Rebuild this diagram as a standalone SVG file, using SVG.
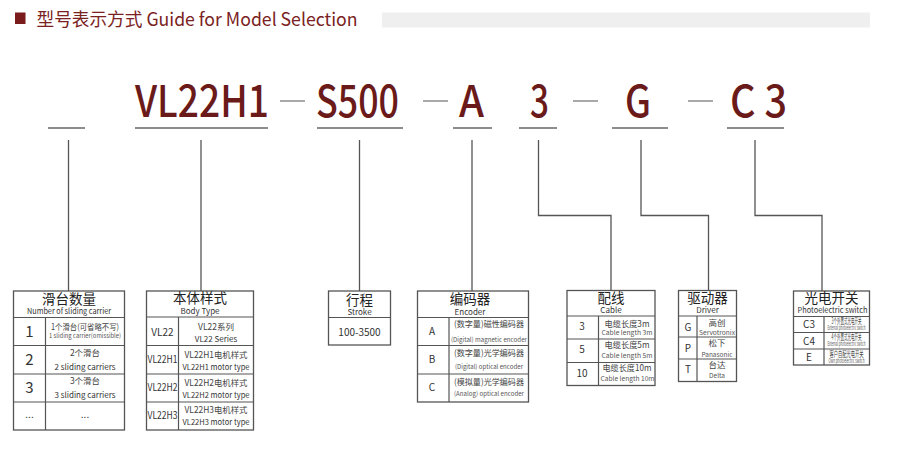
<svg xmlns="http://www.w3.org/2000/svg" width="899" height="471" viewBox="0 0 899 471">
<style>
text{font-family:"Noto Sans CJK SC","Noto Sans",sans-serif;fill:#333;text-anchor:middle}
.h{fill:#7a2222;text-anchor:start;font-size:18px}
.code{fill:#6b1a1a;font-size:44px;text-anchor:start;font-weight:500}
.ul{stroke:#8c8c8c;stroke-width:2}
.dash{stroke:#8c8c8c;stroke-width:1.5}
.conn{stroke:#555;stroke-width:1.3;fill:none}
.box{fill:#fff;stroke:#555;stroke-width:1.3}
.ln{stroke:#555;stroke-width:1.2}
.th{font-size:13.5px;fill:#222}
.te{font-size:8px;fill:#333}
.big{font-size:15px;fill:#333}
.k{font-size:10px;fill:#333}
.cn{font-size:8.5px;fill:#444}
.en{font-size:6.5px;fill:#555}
</style>
<rect width="899" height="471" fill="#fff"/>
<g id="title">
<rect x="15" y="12.5" width="10.5" height="11.5" fill="#7a1c1c"/>
<text class="h" x="36.5" y="26" textLength="321" lengthAdjust="spacingAndGlyphs">型号表示方式 Guide for Model Selection</text>
<rect x="382" y="12.5" width="488" height="15" fill="#efefef"/>
</g>
<g id="code">
<text class="code" x="135" y="117" textLength="134" lengthAdjust="spacingAndGlyphs">VL22H1</text>
<text class="code" x="316" y="117" textLength="83" lengthAdjust="spacingAndGlyphs">S500</text>
<text class="code" x="459" y="117" textLength="25" lengthAdjust="spacingAndGlyphs">A</text>
<text class="code" x="530" y="117" textLength="19" lengthAdjust="spacingAndGlyphs">3</text>
<text class="code" x="625" y="117" textLength="26" lengthAdjust="spacingAndGlyphs">G</text>
<text class="code" x="730" y="117" textLength="57" lengthAdjust="spacingAndGlyphs">C 3</text>
<line class="dash" x1="280" y1="101" x2="305" y2="101"/>
<line class="dash" x1="423" y1="101" x2="448" y2="101"/>
<line class="dash" x1="573" y1="101" x2="598" y2="101"/>
<line class="dash" x1="688" y1="101" x2="713" y2="101"/>
<line class="ul" x1="48" y1="128" x2="85" y2="128"/>
<line class="ul" x1="135" y1="128" x2="268" y2="128"/>
<line class="ul" x1="317" y1="128" x2="403" y2="128"/>
<line class="ul" x1="453" y1="128" x2="492" y2="128"/>
<line class="ul" x1="519" y1="128" x2="557" y2="128"/>
<line class="ul" x1="612" y1="128" x2="668" y2="128"/>
<line class="ul" x1="727" y1="128" x2="784" y2="128"/>
</g>
<g id="connectors">
<path class="conn" d="M68.5 140V291"/>
<path class="conn" d="M201 140V291"/>
<path class="conn" d="M359.5 140V291"/>
<path class="conn" d="M472 140V291"/>
<path class="conn" d="M538.5 140V215.5H611V290"/>
<path class="conn" d="M641 140V215.5H708.5V290" stroke="#888"/>
<path class="conn" d="M755 140V215.5H822V291"/>
</g>
<g id="carrier">
<rect class="box" x="13.5" y="291" width="111" height="139"/>
<line class="ln" x1="13.5" y1="317.5" x2="124.5" y2="317.5"/>
<line class="ln" x1="13.5" y1="345.5" x2="124.5" y2="345.5"/>
<line class="ln" x1="13.5" y1="374" x2="124.5" y2="374"/>
<line class="ln" x1="13.5" y1="402" x2="124.5" y2="402"/>
<line class="ln" x1="45.5" y1="317.5" x2="45.5" y2="430"/>
<text class="th" x="69" y="303.5">滑台数量</text>
<text class="te" x="69" y="314" textLength="84" lengthAdjust="spacingAndGlyphs">Number of sliding carrier</text>
<text class="big" x="29.5" y="336.5">1</text>
<text class="cn" x="85" y="329.5" font-size="7.5" textLength="68" lengthAdjust="spacingAndGlyphs">1个滑台(可省略不写)</text>
<text class="en" x="85" y="338" font-size="5.8" textLength="72" lengthAdjust="spacingAndGlyphs">1 sliding carrier(omissible)</text>
<text class="big" x="29.5" y="365">2</text>
<text class="cn" x="85" y="355.5">2个滑台</text>
<text class="te" x="85" y="369.5">2 sliding carriers</text>
<text class="big" x="29.5" y="393">3</text>
<text class="cn" x="85" y="383.5">3个滑台</text>
<text class="te" x="85" y="397.5">3 sliding carriers</text>
<text class="k" x="29.5" y="418" font-size="11">...</text>
<text class="k" x="85" y="418" font-size="11">...</text>
</g>
<g id="body">
<rect class="box" x="146.5" y="291" width="107" height="139"/>
<line class="ln" x1="146.5" y1="317" x2="253.5" y2="317"/>
<line class="ln" x1="146.5" y1="345.5" x2="253.5" y2="345.5"/>
<line class="ln" x1="146.5" y1="374" x2="253.5" y2="374"/>
<line class="ln" x1="146.5" y1="402" x2="253.5" y2="402"/>
<line class="ln" x1="178.5" y1="317" x2="178.5" y2="430"/>
<text class="th" x="200" y="303">本体样式</text>
<text class="te" x="200" y="313.5">Body Type</text>
<text class="k" x="162.5" y="336" font-size="9.5">VL22</text>
<text class="cn" x="216" y="329.5" font-size="9">VL22系列</text>
<text class="te" x="216" y="342">VL22 Series</text>
<text class="k" x="162.5" y="362.5" font-size="9" textLength="30" lengthAdjust="spacingAndGlyphs">VL22H1</text>
<text class="cn" x="216" y="357.5" font-size="9.5" textLength="63" lengthAdjust="spacingAndGlyphs">VL22H1电机样式</text>
<text class="te" x="216" y="370" font-size="8.3" textLength="67" lengthAdjust="spacingAndGlyphs">VL22H1 motor type</text>
<text class="k" x="162.5" y="390.5" font-size="9" textLength="30" lengthAdjust="spacingAndGlyphs">VL22H2</text>
<text class="cn" x="216" y="385.5" font-size="9.5" textLength="63" lengthAdjust="spacingAndGlyphs">VL22H2电机样式</text>
<text class="te" x="216" y="398" font-size="8.3" textLength="67" lengthAdjust="spacingAndGlyphs">VL22H2 motor type</text>
<text class="k" x="162.5" y="418.5" font-size="9" textLength="30" lengthAdjust="spacingAndGlyphs">VL22H3</text>
<text class="cn" x="216" y="412.5" font-size="9.5" textLength="63" lengthAdjust="spacingAndGlyphs">VL22H3电机样式</text>
<text class="te" x="216" y="424.5" font-size="8.3" textLength="67" lengthAdjust="spacingAndGlyphs">VL22H3 motor type</text>
</g>
<g id="stroke">
<rect class="box" x="328.5" y="291" width="62" height="54"/>
<line class="ln" x1="328.5" y1="317.5" x2="390.5" y2="317.5"/>
<text class="th" x="359.5" y="305">行程</text>
<text class="te" x="359.5" y="314.5">Stroke</text>
<text class="k" x="359.5" y="335.5" font-size="11.5">100-3500</text>
</g>
<g id="encoder">
<rect class="box" x="417.5" y="291" width="111" height="111"/>
<line class="ln" x1="417.5" y1="317.5" x2="528.5" y2="317.5"/>
<line class="ln" x1="417.5" y1="345.5" x2="528.5" y2="345.5"/>
<line class="ln" x1="417.5" y1="374" x2="528.5" y2="374"/>
<line class="ln" x1="449" y1="317.5" x2="449" y2="402"/>
<text class="th" x="470" y="303.5">编码器</text>
<text class="te" x="470" y="314.5">Encoder</text>
<text class="k" x="432" y="334.5" font-size="9">A</text>
<text class="cn" x="489" y="327" textLength="70" lengthAdjust="spacingAndGlyphs">(数字量)磁性编码器</text>
<text class="en" x="489" y="342" font-size="6" textLength="76" lengthAdjust="spacingAndGlyphs">(Digital) magnetic encoder</text>
<text class="k" x="432" y="362.5" font-size="9">B</text>
<text class="cn" x="489" y="356" textLength="70" lengthAdjust="spacingAndGlyphs">(数字量)光学编码器</text>
<text class="en" x="489" y="368.5" font-size="6" textLength="68" lengthAdjust="spacingAndGlyphs">(Digital) optical encoder</text>
<text class="k" x="432" y="391" font-size="9">C</text>
<text class="cn" x="489" y="384.5" textLength="70" lengthAdjust="spacingAndGlyphs">(模拟量)光学编码器</text>
<text class="en" x="489" y="396" font-size="6" textLength="70" lengthAdjust="spacingAndGlyphs">(Analog) optical encoder</text>
</g>
<g id="cable">
<rect class="box" x="567" y="290.5" width="88" height="95"/>
<line class="ln" x1="567" y1="316" x2="655" y2="316"/>
<line class="ln" x1="567" y1="339" x2="655" y2="339"/>
<line class="ln" x1="567" y1="362.5" x2="655" y2="362.5"/>
<line class="ln" x1="598.5" y1="316" x2="598.5" y2="385.5"/>
<text class="th" x="611" y="303">配线</text>
<text class="te" x="611" y="312.5">Cable</text>
<text class="k" x="582" y="330" font-size="9.5">3</text>
<text class="cn" x="627" y="327" font-size="9.5" textLength="45" lengthAdjust="spacingAndGlyphs">电缆长度3m</text>
<text class="en" x="627" y="334.5" font-size="7" textLength="51" lengthAdjust="spacingAndGlyphs">Cable length 3m</text>
<text class="k" x="582" y="353" font-size="9.5">5</text>
<text class="cn" x="627" y="348" font-size="9.5" textLength="45" lengthAdjust="spacingAndGlyphs">电缆长度5m</text>
<text class="en" x="627" y="357.5" font-size="7" textLength="51" lengthAdjust="spacingAndGlyphs">Cable length 5m</text>
<text class="k" x="582" y="376.5" font-size="9.5">10</text>
<text class="cn" x="627" y="371" font-size="9.5" textLength="49" lengthAdjust="spacingAndGlyphs">电缆长度10m</text>
<text class="en" x="627.5" y="380.5" font-size="7" textLength="54" lengthAdjust="spacingAndGlyphs">Cable length 10m</text>
</g>
<g id="driver">
<rect class="box" x="678.5" y="290.5" width="58" height="91"/>
<line class="ln" x1="678.5" y1="316" x2="736.5" y2="316"/>
<line class="ln" x1="678.5" y1="337" x2="736.5" y2="337"/>
<line class="ln" x1="678.5" y1="359" x2="736.5" y2="359"/>
<line class="ln" x1="697" y1="316" x2="697" y2="381.5"/>
<text class="th" x="707.5" y="303">驱动器</text>
<text class="te" x="707.5" y="312.5">Driver</text>
<text class="k" x="688" y="331" font-size="9.5">G</text>
<text class="cn" x="717" y="326">高创</text>
<text class="en" x="717" y="334.5" font-size="7" textLength="36" lengthAdjust="spacingAndGlyphs">Servotronix</text>
<text class="k" x="688" y="352" font-size="9.5">P</text>
<text class="cn" x="717" y="346">松下</text>
<text class="en" x="717" y="356.5" font-size="7">Panasonic</text>
<text class="k" x="688" y="373" font-size="9.5">T</text>
<text class="cn" x="717" y="367.5">台达</text>
<text class="en" x="717" y="377.5" font-size="7">Delta</text>
</g>
<g id="photo">
<rect class="box" x="793.5" y="291" width="76" height="74"/>
<line class="ln" x1="793.5" y1="316.5" x2="869.5" y2="316.5"/>
<line class="ln" x1="793.5" y1="332.5" x2="869.5" y2="332.5"/>
<line class="ln" x1="793.5" y1="349" x2="869.5" y2="349"/>
<line class="ln" x1="824" y1="316.5" x2="824" y2="365"/>
<text class="th" x="831.5" y="303">光电开关</text>
<text class="te" x="832.5" y="312.5" textLength="70" lengthAdjust="spacingAndGlyphs">Photoelectric switch</text>
<text class="k" x="809" y="328" font-size="9">C3</text>
<text class="cn" x="846.5" y="323.5" font-size="3.8" textLength="30" lengthAdjust="spacingAndGlyphs">3个外置式光电开关</text>
<text class="en" x="846.5" y="329.5" font-size="2.8" textLength="38" lengthAdjust="spacingAndGlyphs">External photoelectric switch</text>
<text class="k" x="809" y="344.5" font-size="9">C4</text>
<text class="cn" x="846.5" y="340" font-size="3.8" textLength="30" lengthAdjust="spacingAndGlyphs">4个外置式光电开关</text>
<text class="en" x="846.5" y="346" font-size="2.8" textLength="38" lengthAdjust="spacingAndGlyphs">External photoelectric switch</text>
<text class="k" x="809" y="361" font-size="9">E</text>
<text class="cn" x="846.5" y="356.5" font-size="3.8" textLength="34" lengthAdjust="spacingAndGlyphs">客户自配光电开关</text>
<text class="en" x="846.5" y="362.5" font-size="2.8" textLength="36" lengthAdjust="spacingAndGlyphs">Own photoelectric switch</text>
</g>
</svg>
